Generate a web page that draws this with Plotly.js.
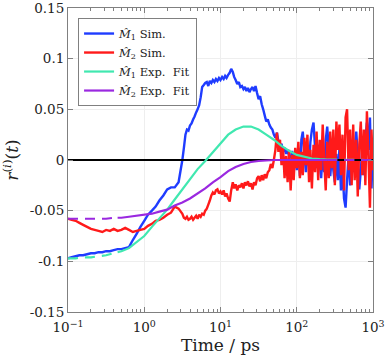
<!DOCTYPE html>
<html>
<head>
<meta charset="utf-8">
<script src="https://cdn.plot.ly/plotly-3.0.1.min.js"></script>
<style>
  html, body { margin: 0; padding: 0; background: #fff; }
  #chart { width: 385px; height: 361px; }
</style>
</head>
<body>
<div id="chart"></div>
<script>
// time grid of the simulations (ps)
const tSim = [
  0.1, 0.112, 0.126, 0.141, 0.158, 0.178, 0.2, 0.224, 0.251, 0.282,
  0.316, 0.355, 0.398, 0.447, 0.501, 0.562, 0.631, 0.708, 0.794, 0.891,
  1, 1.12, 1.26, 1.41, 1.58, 1.78, 2, 2.24, 2.51, 2.82,
  3.16, 3.31, 3.47, 3.63, 3.80, 3.98, 4.17, 4.37, 4.57, 4.79,
  5.01, 5.25, 5.50, 5.75, 6.03, 6.31, 6.61, 6.92, 7.24, 7.59,
  7.94, 8.32, 8.71, 9.12, 9.55,
  10, 10.5, 11.0, 11.5, 12.0, 12.6, 13.2, 13.8, 14.5, 15.1,
  15.8, 16.6, 17.4, 18.2, 19.1, 20.0, 20.9, 21.9, 22.9, 24.0,
  25.1, 26.3, 27.5, 28.8, 30.2, 31.6, 33.1, 34.7, 36.3, 38.0,
  39.8, 41.7, 43.7, 45.7, 47.9, 50.1, 52.5, 55.0, 57.5, 60.3,
  63.1, 66.1, 69.2, 72.4, 75.9, 79.4, 83.2, 87.1, 91.2, 95.5,
  100, 105, 110, 115, 120, 126, 132, 138, 145, 151,
  158, 166, 174, 182, 191, 200, 209, 219, 229, 240,
  251, 263, 275, 288, 302, 316, 331, 347, 363, 380,
  398, 417, 437, 457, 479, 501, 525, 550, 575, 603,
  631, 661, 692, 724, 759, 794, 832, 871, 912, 955, 1000
];

const m1Sim = [
  -0.097, -0.096, -0.095, -0.094, -0.094, -0.093, -0.092, -0.092, -0.091, -0.091,
  -0.090, -0.090, -0.089, -0.088, -0.088, -0.087, -0.086, -0.079, -0.073, -0.066,
  -0.060, -0.054, -0.050, -0.046, -0.040, -0.035, -0.029, -0.027, -0.027, -0.022,
  0.000, 0.012, 0.025, 0.030, 0.029, 0.034, 0.036, 0.040, 0.043, 0.047,
  0.050, 0.054, 0.062, 0.072, 0.074, 0.076, 0.077, 0.073, 0.078, 0.076,
  0.079, 0.077, 0.080, 0.078, 0.081,
  0.079, 0.082, 0.080, 0.083, 0.081, 0.084, 0.086, 0.090, 0.087, 0.082,
  0.079, 0.075, 0.077, 0.072, 0.073, 0.070, 0.072, 0.068, 0.071, 0.067,
  0.070, 0.072, 0.068, 0.073, 0.066, 0.060, 0.063, 0.055, 0.050, 0.044,
  0.038, 0.040, 0.035, 0.032, 0.030, 0.025, 0.022, 0.027, 0.018, 0.012,
  0.016, 0.008, 0.012, 0.006, 0.010, 0.004, 0.002, 0.009, -0.004, 0.006,
  -0.010, 0.012, -0.016, 0.020, 0.028, 0.005, -0.012, 0.010, -0.006, 0.018,
  0.030, 0.037, 0.012, -0.008, 0.015, -0.003, -0.018, 0.008, -0.012, 0.020,
  0.033, 0.010, -0.016, 0.004, -0.010, -0.022, 0.006, -0.020, 0.012, -0.030,
  -0.008, -0.038, -0.047, -0.020, 0.005, -0.025, 0.015, -0.012, 0.010, 0.028,
  0.005, -0.029, -0.010, 0.012, -0.015, 0.020, 0.037, 0.010, 0.042, -0.028, 0.015
];

const m2Sim = [
  -0.058, -0.059, -0.060, -0.062, -0.064, -0.066, -0.068, -0.069, -0.070, -0.071,
  -0.069, -0.070, -0.068, -0.070, -0.069, -0.067, -0.069, -0.071, -0.070, -0.069,
  -0.068, -0.065, -0.063, -0.060, -0.059, -0.057, -0.054, -0.052, -0.046, -0.048,
  -0.053, -0.057, -0.058, -0.056, -0.059, -0.058, -0.056, -0.059, -0.057, -0.055,
  -0.058, -0.054, -0.056, -0.053, -0.054, -0.050, -0.048, -0.044, -0.040, -0.035,
  -0.032, -0.034, -0.030, -0.029, -0.033,
  -0.031, -0.034, -0.030, -0.036, -0.033, -0.038, -0.041, -0.030, -0.022, -0.028,
  -0.024, -0.030, -0.025, -0.027, -0.023, -0.028, -0.022, -0.025, -0.021, -0.026,
  -0.023, -0.029, -0.022, -0.025, -0.018, -0.016, -0.021, -0.015, -0.020, -0.014,
  -0.018, -0.012, -0.010, -0.004, -0.008, 0.000, 0.010, 0.027, 0.008, 0.020,
  -0.005, 0.012, -0.018, 0.004, -0.022, 0.010, -0.030, 0.005, -0.020, 0.012,
  -0.008, 0.018, -0.018, 0.008, -0.015, 0.022, -0.005, 0.025, -0.022, 0.010,
  -0.028, 0.015, -0.012, 0.028, -0.020, 0.020, -0.010, 0.035, 0.000, -0.030,
  0.018, -0.018, 0.028, -0.008, 0.030, -0.025, 0.038, 0.010, 0.035, -0.015,
  0.025, -0.030, 0.042, 0.050, -0.010, 0.030, -0.025, 0.035, -0.020, 0.020,
  -0.036, 0.015, 0.038, -0.015, 0.030, -0.025, 0.048, 0.005, -0.047, 0.030, -0.010
];

// exponential fits
const tFit = [
  0.1, 0.126, 0.158, 0.2, 0.251, 0.316, 0.398, 0.447, 0.501, 0.631,
  0.794, 1, 1.26, 1.58, 2, 2.51, 3.16, 3.98, 5.01, 6.31,
  7.94, 10, 12.6, 15.8, 20, 25.1, 31.6, 39.8, 50.1, 63.1,
  79.4, 100, 126, 158, 200, 251, 316, 398, 501, 631, 794, 1000
];
const m1Fit = [
  -0.097, -0.097, -0.096, -0.096, -0.095, -0.094, -0.092, -0.091, -0.090, -0.087,
  -0.081, -0.075, -0.066, -0.058, -0.049, -0.039, -0.029, -0.018, -0.009, -0.001,
  0.008, 0.017, 0.025, 0.030, 0.033, 0.033, 0.030, 0.025, 0.020, 0.014,
  0.009, 0.005, 0.003, 0.0015, 0.0008, 0.0004, 0.0002, 0.0001, 0, 0, 0, 0
];
const m2Fit = [
  -0.058, -0.058, -0.058, -0.058, -0.058, -0.058, -0.057, -0.057, -0.057, -0.056,
  -0.055, -0.054, -0.053, -0.051, -0.049, -0.045, -0.042, -0.038, -0.033, -0.028,
  -0.022, -0.017, -0.011, -0.007, -0.004, -0.002, -0.001, -0.0003, 0, 0,
  0, 0, 0, 0, 0, 0, 0, 0, 0, 0, 0, 0
];
const fitStart = 0.447, fitEnd = 251;

const seriesNames = [
  '<i>M\u0302</i><sub>1</sub> Sim.',
  '<i>M\u0302</i><sub>2</sub> Sim.',
  '<i>M\u0302</i><sub>1</sub> Exp.  Fit',
  '<i>M\u0302</i><sub>2</sub> Exp.  Fit'
];
const colors = ['#1f3cff', '#ff1a1a', '#40e8b0', '#9a28e0'];

const xTickVals = [0.1, 1, 10, 100, 1000];
const xTickText = ['10<sup>\u22121</sup>', '10<sup>0</sup>', '10<sup>1</sup>', '10<sup>2</sup>', '10<sup>3</sup>'];
const yTickVals = [-0.15, -0.1, -0.05, 0, 0.05, 0.1, 0.15];
const yTickText = ['-0.15', '-0.1', '-0.05', '0', '0.05', '0.1', '0.15'];

function fitPart(y, lo, hi) {
    let xs = [], ys = [];
    for (let i = 0; i < tFit.length; i++) {
        if (tFit[i] >= lo && tFit[i] <= hi) {
            xs.push(tFit[i]);
            ys.push(y[i]);
        }
    }
    return [xs, ys];
}

function fitTraces(y, name, color) {
    const parts = [
        [fitPart(y, 0, fitStart), '10px,7px', false],
        [fitPart(y, fitStart, fitEnd), 'solid', true],
        [fitPart(y, fitEnd, 1e9), '10px,7px', false],
    ];
    return parts.map(function (p) {
        return {
            x: p[0][0], y: p[0][1],
            type: 'scatter', mode: 'lines',
            name: name, showlegend: p[2],
            line: {color: color, width: 2.2, dash: p[1]},
        };
    });
}

let minorVals = [];
for (let d = -1; d < 3; d++) {
    for (let k = 2; k < 10; k++) minorVals.push(k * Math.pow(10, d));
}

let data = [
    {x: tSim, y: m1Sim, type: 'scatter', mode: 'lines', name: seriesNames[0],
     line: {color: colors[0], width: 2.4, simplify: false}},
    {x: tSim, y: m2Sim, type: 'scatter', mode: 'lines', name: seriesNames[1],
     line: {color: colors[1], width: 2.4, simplify: false}},
    {x: [0.1, 1000], y: [0, 0], type: 'scatter', mode: 'lines', showlegend: false,
     line: {color: '#000', width: 2}},
].concat(fitTraces(m1Fit, seriesNames[2], colors[2]), fitTraces(m2Fit, seriesNames[3], colors[3]));

const axisColor = '#808080';
const serif = 'DejaVu Serif';

let layout = {
    width: 385,
    height: 361,
    margin: {l: 68, r: 12, t: 8, b: 49},
    paper_bgcolor: '#fff',
    plot_bgcolor: '#fff',
    font: {family: serif, size: 13.5, color: '#222'},
    showlegend: true,
    legend: {
        x: 0.033, y: 0.967, xanchor: 'left', yanchor: 'top',
        bgcolor: '#fff', bordercolor: axisColor, borderwidth: 1,
        font: {family: serif, size: 11.5, color: '#222'},
    },
    xaxis: {
        type: 'log',
        range: [-1, 3],
        tickmode: 'array', tickvals: xTickVals, ticktext: xTickText,
        ticks: 'inside', ticklen: 5, tickcolor: axisColor,
        tickfont: {family: serif, size: 13.5},
        ticklabelstandoff: 3,
        ticklabeloverflow: 'allow',
        showline: true, linecolor: axisColor, linewidth: 1, mirror: 'ticks',
        showgrid: true, gridcolor: '#eeeeee',
        zeroline: false,
        minor: {tickmode: 'array', tickvals: minorVals, ticks: 'inside', ticklen: 3,
                tickcolor: axisColor, showgrid: false},
        title: {text: 'Time / ps', font: {family: serif, size: 17}, standoff: 4},
    },
    yaxis: {
        range: [-0.15, 0.15],
        tickmode: 'array', tickvals: yTickVals, ticktext: yTickText,
        ticks: 'inside', ticklen: 5, tickcolor: axisColor,
        tickfont: {family: serif, size: 13.5},
        ticklabeloverflow: 'allow',
        showline: true, linecolor: axisColor, linewidth: 1, mirror: 'ticks',
        showgrid: true, gridcolor: '#eeeeee',
        zeroline: false,
        title: {text: '<i>r</i><sup>(<i>i</i>)</sup>(<i>t</i>)', font: {family: serif, size: 17}, standoff: 8},
    },
};

let config = {staticPlot: true};

Plotly.newPlot('chart', data, layout, config);
</script>
</body>
</html>
